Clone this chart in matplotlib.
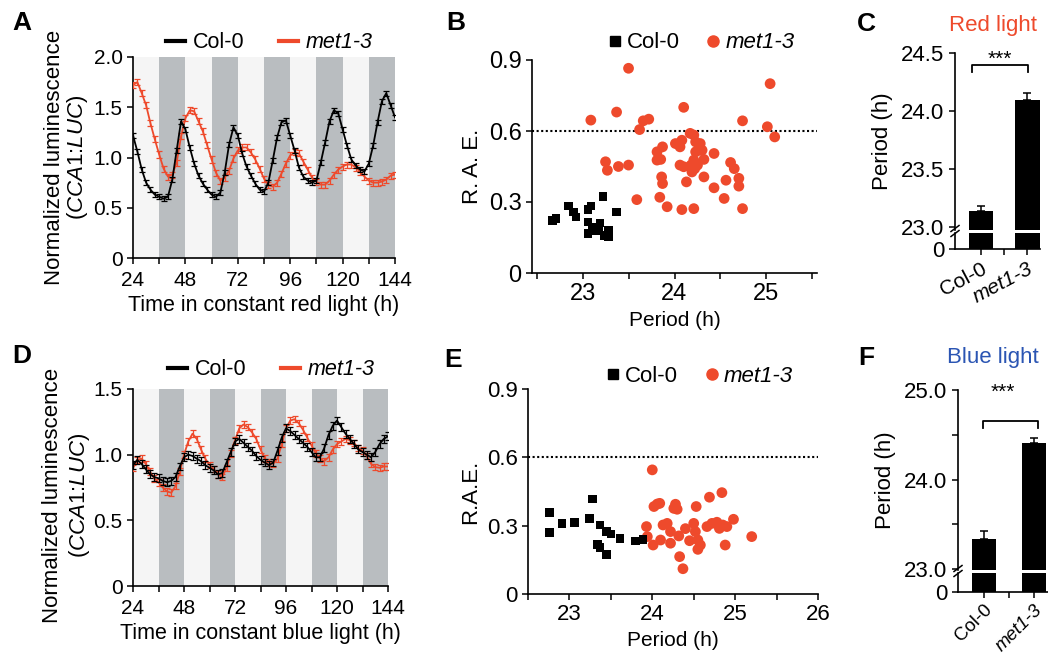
import matplotlib

matplotlib.use("Agg")

import matplotlib.pyplot as plt
from matplotlib.lines import Line2D

plt.rcParams["font.family"] = ["Liberation Sans", "DejaVu Sans"]
plt.rcParams["mathtext.fontset"] = "custom"
plt.rcParams["mathtext.rm"] = "Liberation Sans"
plt.rcParams["mathtext.it"] = "Liberation Sans:italic"

W, H = 1048, 653
RED = "#ee4a2c"
BLUE_TXT = "#2b55b3"
BAND = "#b9bdc0"

# ---- time courses (2 h sampling) ----
TIME_H = list(range(24, 145, 2))
NIGHT_STARTS = [36, 60, 84, 108, 132]

RED_COL0 = [1.22, 1.06, 0.88, 0.75, 0.68, 0.63, 0.61, 0.59, 0.61, 0.78,
            1.07, 1.36, 1.28, 1.10, 0.94, 0.82, 0.74, 0.68, 0.63, 0.61,
            0.65, 0.85, 1.13, 1.30, 1.22, 1.04, 0.91, 0.82, 0.74, 0.68,
            0.66, 0.75, 0.97, 1.20, 1.35, 1.37, 1.22, 1.07, 0.90, 0.81,
            0.77, 0.75, 0.77, 0.95, 1.15, 1.36, 1.47, 1.44, 1.28, 1.12,
            0.98, 0.92, 0.88, 0.86, 0.94, 1.12, 1.35, 1.56, 1.64, 1.52,
            1.40]
RED_MET = [1.72, 1.75, 1.64, 1.52, 1.34, 1.18, 1.03, 0.89, 0.81, 0.83,
           0.95, 1.21, 1.39, 1.47, 1.46, 1.36, 1.26, 1.12, 0.98, 0.85,
           0.77, 0.80, 0.87, 0.99, 1.07, 1.10, 1.10, 1.05, 0.98, 0.89,
           0.79, 0.73, 0.71, 0.75, 0.84, 0.94, 1.02, 1.05, 1.04, 0.96,
           0.88, 0.80, 0.76, 0.73, 0.73, 0.77, 0.83, 0.88, 0.91, 0.93,
           0.93, 0.90, 0.86, 0.81, 0.77, 0.75, 0.75, 0.76, 0.78, 0.82,
           0.83]
BLUE_COL0 = [0.92, 0.96, 0.93, 0.89, 0.85, 0.83, 0.82, 0.80, 0.79, 0.80,
             0.83, 0.91, 0.98, 1.00, 0.99, 0.97, 0.95, 0.92, 0.90, 0.88,
             0.85, 0.86, 0.94, 1.02, 1.10, 1.12, 1.09, 1.06, 1.03, 0.99,
             0.96, 0.94, 0.92, 0.94, 1.03, 1.13, 1.20, 1.18, 1.15, 1.12,
             1.09, 1.06, 1.02, 0.98, 0.98, 1.05, 1.15, 1.22, 1.26, 1.21,
             1.16, 1.12, 1.08, 1.04, 1.02, 1.00, 0.98, 1.02, 1.08, 1.12,
             1.14]
BLUE_MET = [0.90, 0.96, 0.97, 0.93, 0.87, 0.82, 0.79, 0.75, 0.72, 0.71,
            0.76, 0.87, 1.00, 1.10, 1.16, 1.12, 1.04, 0.97, 0.92, 0.89,
            0.85, 0.83, 0.90, 1.01, 1.11, 1.20, 1.23, 1.21, 1.17, 1.12,
            1.04, 0.97, 0.94, 0.93, 0.97, 1.08, 1.20, 1.26, 1.27, 1.24,
            1.19, 1.13, 1.07, 1.01, 0.97, 0.95, 0.98, 1.04, 1.08, 1.10,
            1.12, 1.11, 1.09, 1.05, 1.03, 0.99, 0.93, 0.905, 0.90, 0.91,
            0.91]
SEM = {"red_col0": 0.025, "red_met": 0.03, "blue_col0": 0.03, "blue_met": 0.025}

# ---- R.A.E. scatter ----
B_COL0_PERIOD = [22.67, 22.71, 22.85, 22.90, 22.93, 23.06, 23.09, 23.06, 23.06,
                 23.11, 23.15, 23.19, 23.22, 23.24, 23.28, 23.28, 23.18, 23.37]
B_COL0_RAE = [0.223, 0.230, 0.283, 0.258, 0.237, 0.268, 0.283, 0.216, 0.166,
              0.195, 0.180, 0.212, 0.324, 0.159, 0.180, 0.155, 0.188, 0.257]
B_MET_PERIOD = [23.50, 25.04, 24.10, 23.09, 23.37, 23.66, 23.72, 23.62, 24.74,
                25.01, 25.09, 23.25, 23.27, 23.39, 23.50, 23.59, 23.81, 23.87,
                23.81, 23.85, 23.86, 23.87, 23.84, 23.92, 24.01, 24.06, 24.08,
                24.06, 24.10, 24.13, 24.08, 24.17, 24.21, 24.23, 24.28, 24.27,
                24.23, 24.30, 24.18, 24.21, 24.22, 24.19, 24.25, 24.32, 24.32,
                24.43, 24.43, 24.21, 24.56, 24.54, 24.61, 24.65, 24.70, 24.70,
                24.74]
B_MET_RAE = [0.865, 0.800, 0.700, 0.646, 0.680, 0.643, 0.650, 0.606, 0.643,
             0.618, 0.575, 0.470, 0.434, 0.450, 0.456, 0.310, 0.512, 0.533,
             0.477, 0.480, 0.406, 0.378, 0.320, 0.280, 0.547, 0.533, 0.561,
             0.456, 0.449, 0.385, 0.268, 0.590, 0.583, 0.554, 0.547, 0.519,
             0.512, 0.519, 0.456, 0.477, 0.441, 0.427, 0.456, 0.480, 0.406,
             0.505, 0.360, 0.272, 0.392, 0.315, 0.467, 0.441, 0.400, 0.367,
             0.272]
E_COL0_PERIOD = [22.76, 22.76, 22.91, 23.06, 23.24, 23.28, 23.37, 23.34, 23.37,
                 23.45, 23.45, 23.50, 23.61, 23.80, 23.89]
E_COL0_RAE = [0.359, 0.271, 0.310, 0.315, 0.332, 0.417, 0.303, 0.218, 0.205,
              0.174, 0.274, 0.264, 0.243, 0.233, 0.240]
E_MET_PERIOD = [24.00, 23.93, 23.94, 24.02, 24.06, 24.09, 24.01, 24.10, 24.13,
                24.18, 24.22, 24.22, 24.26, 24.28, 24.30, 24.32, 24.33, 24.37,
                24.40, 24.45, 24.50, 24.53, 24.52, 24.55, 24.58, 24.55, 24.66,
                24.69, 24.72, 24.78, 24.81, 24.85, 24.88, 24.84, 24.90, 24.98,
                25.20]
E_MET_RAE = [0.545, 0.296, 0.252, 0.384, 0.395, 0.398, 0.215, 0.237, 0.303,
             0.310, 0.223, 0.274, 0.376, 0.394, 0.372, 0.255, 0.164, 0.111,
             0.287, 0.234, 0.310, 0.384, 0.274, 0.196, 0.215, 0.237, 0.296,
             0.425, 0.310, 0.315, 0.288, 0.303, 0.215, 0.445, 0.296, 0.328,
             0.252]

# ---- mean period bars ----
GENOTYPES = ["Col-0", "met1-3"]
RED_PERIOD = [23.14, 24.10]
RED_PERIOD_SEM = [0.04, 0.06]
BLUE_PERIOD = [23.34, 24.41]
BLUE_PERIOD_SEM = [0.09, 0.05]


def fx(px):
    return px / W


def fy(py):
    return 1 - py / H


def box(left, top, right, bottom):
    return [fx(left), fy(bottom), (right - left) / W, (bottom - top) / H]


def style_axes(ax, size):
    for side in ("top", "right"):
        ax.spines[side].set_visible(False)
    for side in ("left", "bottom"):
        ax.spines[side].set_linewidth(1.2)
    ax.tick_params(labelsize=size, width=1.1, length=4, direction="out")
    ax.tick_params(which="minor", width=1.1, length=4)


def plot_timecourse(ax, col0, met, sem_col0, sem_met, ymax, yticks, xlabel, leg_xy):
    ax.set_facecolor("#f5f5f5")
    for start in NIGHT_STARTS:
        ax.axvspan(start, start + 12, color=BAND, lw=0, zorder=0)
    ax.errorbar(TIME_H, met, yerr=sem_met, color=RED, lw=1.3, elinewidth=0.9,
                capsize=2.5, capthick=0.9, zorder=3)
    ax.errorbar(TIME_H, col0, yerr=sem_col0, color="black", lw=1.3, elinewidth=0.9,
                capsize=2.5, capthick=0.9, zorder=4)
    ax.set_xlim(24, 144)
    ax.set_ylim(0, ymax)
    ax.set_xticks([24, 48, 72, 96, 120, 144])
    ax.set_xticks([36, 60, 84, 108, 132], minor=True)
    ax.set_yticks(yticks)
    ax.set_yticklabels(["0" if v == 0 else f"{v:.1f}" for v in yticks])
    style_axes(ax, 15)
    ax.tick_params(axis="x", pad=5)
    ax.set_xlabel(xlabel, fontsize=15.5, labelpad=4)
    handles = [Line2D([], [], color="black", lw=3), Line2D([], [], color=RED, lw=3)]
    leg = ax.legend(handles, GENOTYPES, loc="center", bbox_to_anchor=leg_xy, ncol=2,
                    frameon=False, fontsize=15.5, handlelength=0.9, handletextpad=0.35,
                    columnspacing=1.6, borderaxespad=0)
    leg.get_texts()[1].set_style("italic")


def plot_rae(ax, col0_p, col0_r, met_p, met_r, xlim, xticks, minor, ylabel, size, leg_xy):
    ax.axhline(0.6, color="black", ls=(0, (1, 1.2)), lw=1.5, zorder=1)
    ax.scatter(met_p, met_r, s=60, color=RED, edgecolors="none", zorder=3, clip_on=False)
    ax.scatter(col0_p, col0_r, s=38, marker="s", color="black", edgecolors="none",
               zorder=4, clip_on=False)
    ax.set_xlim(*xlim)
    ax.set_ylim(0, 0.9)
    ax.set_xticks(xticks)
    ax.set_xticks(minor, minor=True)
    ax.set_yticks([0, 0.3, 0.6, 0.9])
    ax.set_yticklabels(["0", "0.3", "0.6", "0.9"])
    style_axes(ax, size)
    ax.set_ylabel(ylabel, fontsize=16, labelpad=4)
    ax.set_xlabel("Period (h)", fontsize=15, labelpad=4)
    handles = [Line2D([], [], marker="s", ls="none", color="black", markersize=6.5),
               Line2D([], [], marker="o", ls="none", color=RED, markersize=8)]
    leg = ax.legend(handles, GENOTYPES, loc="center", bbox_to_anchor=leg_xy, ncol=2,
                    frameon=False, fontsize=16, handlelength=0.6, handletextpad=0.25,
                    columnspacing=1.2, borderaxespad=0)
    leg.get_texts()[1].set_style("italic")


def plot_period_bars(fig, top_box, low_box, values, sems, ylim, yticks, minor_y,
                     xlim, width, rotation, label_size, bracket, stars_xy):
    ax = fig.add_axes(top_box)
    low = fig.add_axes(low_box)
    xs = list(range(len(values)))
    for a in (ax, low):
        a.bar(xs, values, width=width, color="black")
        a.set_xlim(*xlim)
        style_axes(a, 16)
    ax.errorbar(xs, values, yerr=[[0] * len(sems), sems], fmt="none", ecolor="black",
                elinewidth=1.1, capsize=3, capthick=1.1)
    ax.set_ylim(*ylim)
    ax.set_yticks(yticks)
    ax.set_yticklabels([f"{v:.1f}" for v in yticks])
    ax.set_yticks(minor_y, minor=True)
    ax.spines["bottom"].set_visible(False)
    ax.tick_params(axis="x", bottom=False, labelbottom=False)
    ax.set_ylabel("Period (h)", fontsize=16, labelpad=6)
    low.set_ylim(0, 1)
    low.set_yticks([0])
    low.set_yticklabels(["0"])
    low.spines["top"].set_visible(False)
    low.set_xticks(xs)
    low.set_xticks([0.5], minor=True)
    low.set_xticklabels(GENOTYPES, rotation=rotation, ha="right", rotation_mode="anchor",
                        fontsize=label_size)
    low.tick_params(axis="x", pad=3)
    low.get_xticklabels()[1].set_style("italic")
    x0, x1, y_top, y_leg = bracket
    ax.plot([x0, x0, x1, x1], [y_leg, y_top, y_top, y_leg], color="black", lw=1.3,
            clip_on=False)
    ax.text(stars_xy[0], stars_xy[1], "***", ha="center", va="center", fontsize=15)
    return ax, low


fig = plt.figure(figsize=(W / 100, H / 100), dpi=100)

# A
ax_a = fig.add_axes(box(133, 57, 395, 258))
plot_timecourse(ax_a, RED_COL0, RED_MET, SEM["red_col0"], SEM["red_met"], 2.0,
                [0, 0.5, 1.0, 1.5, 2.0], "Time in constant red light (h)", (0.52, 1.07))
fig.text(fx(55), fy(157), "Normalized luminescence", rotation=90, ha="center",
         va="center", fontsize=16)
fig.text(fx(77), fy(157), r"($\mathit{CCA1}$:$\mathit{LUC}$)", rotation=90, ha="center",
         va="center", fontsize=16)

# D
ax_d = fig.add_axes(box(133, 389, 388, 586))
plot_timecourse(ax_d, BLUE_COL0, BLUE_MET, SEM["blue_col0"], SEM["blue_met"], 1.5,
                [0, 0.5, 1.0, 1.5], "Time in constant blue light (h)", (0.543, 1.097))
fig.text(fx(53), fy(495), "Normalized luminescence", rotation=90, ha="center",
         va="center", fontsize=16)
fig.text(fx(79), fy(495), r"($\mathit{CCA1}$:$\mathit{LUC}$)", rotation=90, ha="center",
         va="center", fontsize=16)

# B
ax_b = fig.add_axes(box(532, 60, 817, 273))
plot_rae(ax_b, B_COL0_PERIOD, B_COL0_RAE, B_MET_PERIOD, B_MET_RAE, (22.45, 25.55),
         [23, 24, 25], [22.5, 23.5, 24.5, 25.5], "R. A. E.", 17, (0.594, 1.08))

# E
ax_e = fig.add_axes(box(528, 389, 818, 594))
plot_rae(ax_e, E_COL0_PERIOD, E_COL0_RAE, E_MET_PERIOD, E_MET_RAE, (22.5, 26.0),
         [23, 24, 25, 26], [22.5, 23.5, 24.5, 25.5], "R.A.E.", 16, (0.592, 1.06))

# C
plot_period_bars(fig, box(955, 53.3, 1040, 229.6), box(955, 232.7, 1040, 249.3),
                 RED_PERIOD, RED_PERIOD_SEM, (22.975, 24.5), [23.0, 23.5, 24.0, 24.5],
                 [], (-0.56, 1.27), 0.52, 28, 15, (-0.19, 1.01, 24.40, 24.34),
                 (0.41, 24.45))

# F
plot_period_bars(fig, box(958, 390, 1048, 570), box(958, 573, 1048, 591.7),
                 BLUE_PERIOD, BLUE_PERIOD_SEM, (22.99, 25.0), [23.0, 24.0, 25.0],
                 [23.5, 24.5], (-0.52, 1.28), 0.49, 45, 13.5,
                 (-0.03, 1.07, 24.65, 24.58), (0.38, 24.97))

# axis-break marks
for bx, by in [(955, 231), (958, 571)]:
    for dy in (-2.5, 2.5):
        fig.add_artist(Line2D([fx(bx - 4), fx(bx + 4)], [fy(by + dy + 3), fy(by + dy - 3)],
                              color="black", lw=1.1))

fig.text(fx(993), fy(25), "Red light", color=RED, ha="center", va="center", fontsize=16)
fig.text(fx(993), fy(358), "Blue light", color=BLUE_TXT, ha="center", va="center",
         fontsize=16)

for letter, x, y in [("A", 22, 23), ("B", 456, 23), ("C", 866, 24),
                     ("D", 22, 356), ("E", 453, 360), ("F", 866, 358)]:
    fig.text(fx(x), fy(y), letter, fontsize=19, fontweight="bold", ha="center", va="center")

fig.savefig("out.png", dpi=100)
